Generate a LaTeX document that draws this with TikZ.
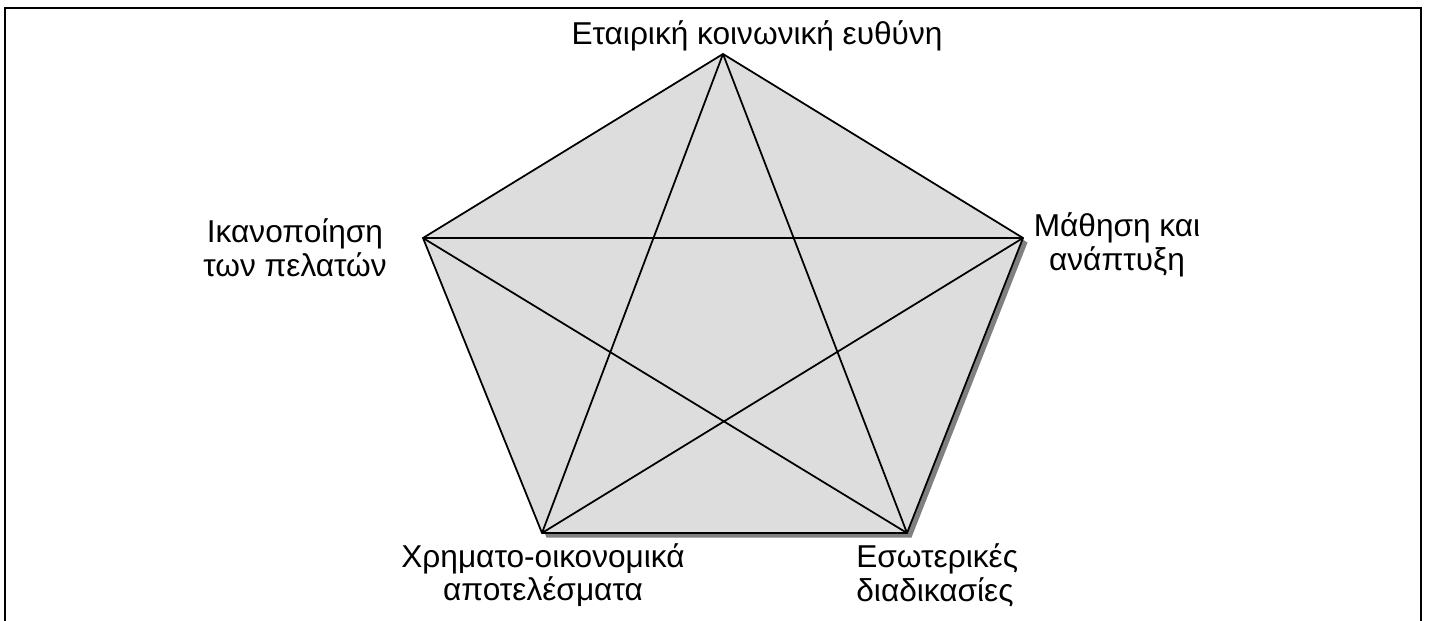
\documentclass[tikz,border=0pt]{standalone}
\usepackage{fontspec}
\setmainfont{Liberation Sans}
\definecolor{pentafill}{HTML}{DDDDDD}
\definecolor{shadowgray}{HTML}{808080}

\begin{document}
\begin{tikzpicture}[x=0.02cm, y=-0.02cm, font=\fontsize{18}{19.2}\selectfont,
  lbl/.style={align=center, inner sep=0pt}]
  \useasboundingbox (0,0) rectangle (1429,621);
  % frame (open at the bottom)
  \draw[line width=1.2pt] (5,621) |- (1421,8) -- (1421,621);

  % corners of the pentagon
  \coordinate (Csr) at (723,54);
  \coordinate (Learn) at (1023,238);
  \coordinate (Proc) at (907,533);
  \coordinate (Fin) at (542,533);
  \coordinate (Cust) at (423,238);

  % shadow, then the pentagon itself
  \fill[shadowgray] ([xshift=0.9mm,yshift=-0.9mm]Csr) -- ([xshift=0.9mm,yshift=-0.9mm]Learn)
    -- ([xshift=0.9mm,yshift=-0.9mm]Proc) -- ([xshift=0.9mm,yshift=-0.9mm]Fin)
    -- ([xshift=0.9mm,yshift=-0.9mm]Cust) -- cycle;
  \filldraw[fill=pentafill, line width=1pt, line join=miter]
    (Csr) -- (Learn) -- (Proc) -- (Fin) -- (Cust) -- cycle;
  \draw[line width=1pt] (Csr) -- (Fin) (Csr) -- (Proc) (Cust) -- (Learn)
    (Cust) -- (Proc) (Learn) -- (Fin);

  \node[lbl, anchor=base] (lCsr) at (757,45) {Εταιρική κοινωνική ευθύνη};
  \node[lbl] (lCust) at (295,248) {Ικανοποίηση\\των πελατών};
  \node[lbl] (lLearn) at (1117,245) {Μάθηση και\\ανάπτυξη};
  \node[lbl] (lFin) at (543,575) {Χρηματο-οικονομικά\\αποτελέσματα};
  \node[lbl, align=left, anchor=west] (lProc) at (856,575) {Εσωτερικές\\διαδικασίες};
\end{tikzpicture}
\end{document}
